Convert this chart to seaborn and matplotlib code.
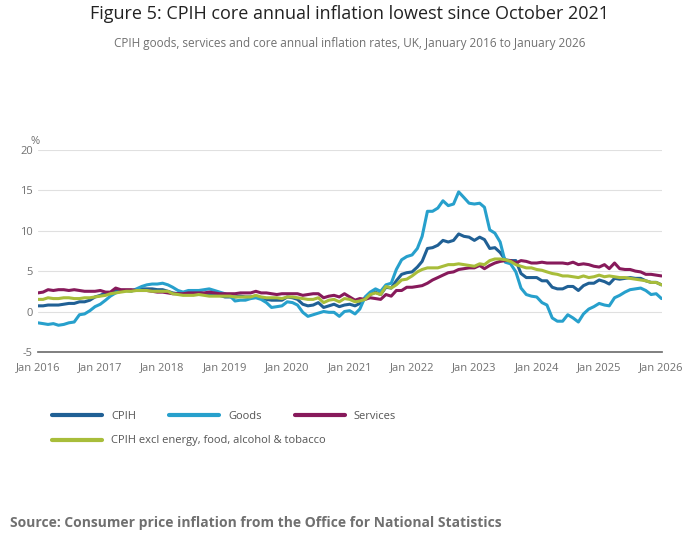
import matplotlib
matplotlib.use("Agg")
import matplotlib.pyplot as plt
import matplotlib.dates as mdates
import seaborn as sns
import pandas as pd
import numpy as np

dates = pd.date_range("2016-01-01", "2026-01-01", freq="MS")

cpih = [0.7,0.7,0.8,0.8,0.8,0.9,1.0,1.0,1.2,1.2,1.4,1.8,
        2.0,2.3,2.3,2.6,2.6,2.6,2.6,2.7,2.8,2.8,2.8,2.7,
        2.7,2.5,2.3,2.2,2.3,2.3,2.3,2.4,2.2,2.2,2.2,2.0,
        1.8,1.8,1.8,1.9,1.8,1.8,1.9,1.6,1.5,1.4,1.4,1.4,
        1.8,1.7,1.5,0.9,0.7,0.8,1.1,0.5,0.7,0.9,0.6,0.8,
        0.9,0.7,1.0,1.6,2.1,2.4,2.1,3.0,2.9,3.8,4.6,4.8,
        4.9,5.5,6.2,7.8,7.9,8.2,8.8,8.6,8.8,9.6,9.3,9.2,
        8.8,9.2,8.9,7.8,7.9,7.3,6.4,6.3,6.3,4.7,4.2,4.2,
        4.2,3.8,3.8,3.0,2.8,2.8,3.1,3.1,2.6,3.2,3.5,3.5,
        3.9,3.7,3.4,4.1,4.0,4.1,4.2,4.1,4.1,3.8,3.6,3.6,
        3.3]
goods = [-1.4,-1.5,-1.6,-1.5,-1.7,-1.6,-1.4,-1.3,-0.4,-0.3,0.1,0.6,
         0.9,1.4,1.9,2.3,2.5,2.6,2.5,2.8,3.1,3.3,3.4,3.4,
         3.5,3.3,3.0,2.6,2.4,2.6,2.6,2.6,2.7,2.8,2.6,2.4,
         2.2,1.9,1.3,1.4,1.4,1.6,1.7,1.5,1.1,0.5,0.6,0.7,
         1.2,1.1,0.8,-0.1,-0.6,-0.4,-0.2,0.0,-0.1,-0.1,-0.6,0.0,
         0.1,-0.3,0.3,1.8,2.4,2.8,2.5,3.3,3.5,5.2,6.4,6.8,
         7.0,7.8,9.3,12.4,12.4,12.8,13.7,13.1,13.3,14.8,14.1,13.4,
         13.3,13.4,12.9,10.1,9.7,8.6,6.1,5.9,4.9,2.9,2.1,1.9,
         1.8,1.1,0.8,-0.8,-1.2,-1.2,-0.4,-0.8,-1.3,-0.3,0.3,0.6,
         1.0,0.8,0.7,1.7,2.0,2.4,2.7,2.8,2.9,2.6,2.1,2.2,
         1.6]
services = [2.3,2.4,2.7,2.6,2.7,2.7,2.6,2.7,2.6,2.5,2.5,2.5,
            2.6,2.4,2.4,2.9,2.7,2.7,2.7,2.6,2.6,2.6,2.5,2.4,
            2.4,2.3,2.2,2.2,2.2,2.3,2.3,2.3,2.3,2.4,2.3,2.2,
            2.2,2.2,2.2,2.3,2.3,2.3,2.5,2.3,2.3,2.2,2.1,2.2,
            2.2,2.2,2.2,2.0,2.1,2.2,2.2,1.7,1.9,2.0,1.8,2.2,
            1.8,1.4,1.6,1.5,1.7,1.6,1.5,2.1,1.9,2.6,2.6,3.0,
            3.0,3.1,3.2,3.5,3.9,4.2,4.5,4.8,4.9,5.2,5.3,5.4,
            5.4,5.7,5.3,5.7,6.0,6.2,6.3,6.3,6.0,6.3,6.2,6.0,
            6.0,6.1,6.0,6.0,6.0,6.0,5.9,6.1,5.8,5.9,5.8,5.6,
            5.5,5.8,5.3,6.0,5.3,5.2,5.2,5.0,4.9,4.6,4.6,4.5,
            4.4]
core = [1.5,1.5,1.7,1.6,1.6,1.7,1.7,1.6,1.6,1.7,1.7,1.8,
        1.9,2.0,2.2,2.3,2.4,2.5,2.5,2.6,2.6,2.6,2.5,2.5,
        2.5,2.5,2.2,2.1,2.0,2.0,2.0,2.1,2.0,1.9,1.9,1.9,
        1.9,1.9,1.8,1.8,1.8,1.8,2.0,1.8,1.7,1.7,1.7,1.6,
        1.8,1.8,1.7,1.6,1.5,1.5,1.7,1.1,1.4,1.5,1.2,1.6,
        1.5,1.2,1.3,1.5,2.1,2.3,2.1,3.1,2.9,3.3,3.9,4.0,
        4.4,4.9,5.2,5.4,5.4,5.4,5.6,5.8,5.8,5.9,5.8,5.7,
        5.6,5.9,5.8,6.3,6.5,6.5,6.4,6.2,5.8,5.6,5.4,5.4,
        5.2,5.1,4.9,4.7,4.6,4.4,4.4,4.3,4.2,4.4,4.2,4.3,
        4.5,4.3,4.4,4.3,4.2,4.2,4.1,4.0,3.9,3.8,3.6,3.6,
        3.3]

names = ["CPIH", "Goods", "Services", "CPIH excl energy, food, alcohol & tobacco"]
colors = ["#206095", "#27a0cc", "#871a5b", "#a8bd3a"]
series = [cpih, goods, services, core]

df = pd.concat([pd.DataFrame({"date": dates, "value": s, "series": n}) for n, s in zip(names, series)])

sns.set_theme(style="white")
plt.rcParams["font.family"] = ["Open Sans", "DejaVu Sans"]
plt.rcParams["axes.unicode_minus"] = False

fig = plt.figure(figsize=(7, 5.49), dpi=100)
ax = fig.add_axes([0.054, 0.359, 0.891, 0.368])
sns.lineplot(data=df, x="date", y="value", hue="series", palette=dict(zip(names, colors)),
             hue_order=names, linewidth=2.2, ax=ax, legend=False)

ax.set_ylim(-5, 20)
ax.set_yticks([-5, 0, 5, 10, 15, 20])
ax.set_xlim(dates[0], dates[-1])
ax.set_xticks(pd.date_range("2016-01-01", "2026-01-01", freq="YS"))
ax.xaxis.set_major_formatter(mdates.DateFormatter("Jan %Y"))
ax.tick_params(axis="both", labelsize=8, colors="#707070", length=0)
ax.tick_params(axis="x", length=4, color="#707070")
ax.grid(axis="y", color="#e0e0e0", linewidth=0.8)
for s in ["top", "right", "left"]:
    ax.spines[s].set_visible(False)
ax.spines["bottom"].set_color("#707070")
ax.set_xlabel("")
ax.set_ylabel("")
ax.text(-0.012, 1.03, "%", transform=ax.transAxes, fontsize=8, color="#707070", ha="left")

fig.text(0.5, 0.965, "Figure 5: CPIH core annual inflation lowest since October 2021",
         ha="center", fontsize=13, color="#222222")
fig.text(0.5, 0.915, "CPIH goods, services and core annual inflation rates, UK, January 2016 to January 2026",
         ha="center", fontsize=8.5, color="#707070")

from matplotlib.lines import Line2D
h = [Line2D([0], [0], color=c, lw=3) for c in colors]
fig.legend(h[:3], names[:3], loc="upper left", bbox_to_anchor=(0.06, 0.27), ncol=3,
           frameon=False, fontsize=8, labelcolor="#555555", handlelength=4.5, columnspacing=3)
fig.legend(h[3:], names[3:], loc="upper left", bbox_to_anchor=(0.06, 0.225), ncol=1,
           frameon=False, fontsize=8, labelcolor="#555555", handlelength=4.5)

fig.text(0.014, 0.04, "Source: Consumer price inflation from the Office for National Statistics",
         fontsize=10, fontweight="bold", color="#707070")

fig.savefig("out.png", dpi=100)
